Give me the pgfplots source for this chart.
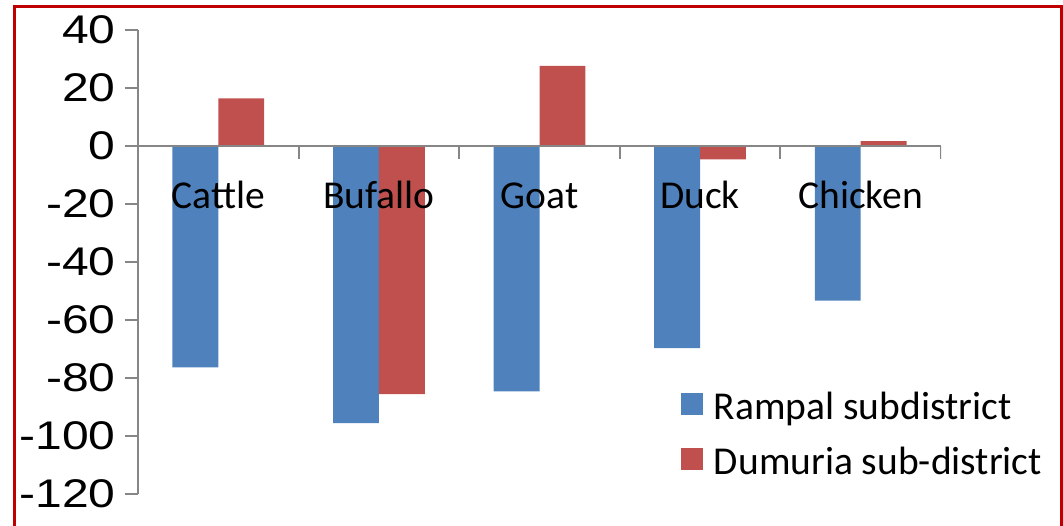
\documentclass[border=0pt]{standalone}
\usepackage{pgfplots}
\pgfplotsset{compat=1.18}
\usepackage{fontspec}
\setmainfont{Carlito}
\newfontfamily\arialfont[FakeStretch=1.2]{Liberation Sans}

\definecolor{rampal}{HTML}{4F81BD}
\definecolor{dumuria}{HTML}{C0504D}
\definecolor{axisgray}{HTML}{868686}
\definecolor{framered}{HTML}{C00000}

\begin{document}
\begin{tikzpicture}
\useasboundingbox (0,0) rectangle (1063bp,526bp);
% outer frame of the chart area
\draw[framered, line width=3bp] (14bp,-20bp) rectangle (1061bp,519.7bp);

\begin{axis}[
  at={(138bp,32bp)}, anchor=south west,
  scale only axis,
  width=803bp, height=464bp,
  xmin=-0.5, xmax=4.5,
  ymin=-120, ymax=40,
  axis on top,
  axis y line*=left,
  axis x line*=middle,
  axis line style={axisgray, line width=2bp},
  ytick={-120,-100,...,40},
  ytick style={axisgray, line width=2bp},
  tick align=outside,
  major tick length=13bp,
  yticklabel style={font=\arialfont\fontsize{40bp}{48bp}\selectfont, xshift=-6bp},
  /pgf/number format/assume math mode=true,
  xtick={0,...,4},
  xticklabels={Cattle,Bufallo,Goat,Duck,Chicken},
  xtick style={draw=none},
  xticklabel style={font=\fontsize{39.5bp}{46bp}\selectfont, anchor=base, yshift=-50bp},
  ybar, bar width=0.2857,
  legend style={
    at={(0.6762,0.2198)}, anchor=north west,
    draw=none, fill=none, inner sep=0pt, outer sep=0pt,
    font=\fontsize{39.5bp}{46bp}\selectfont,
    nodes={inner sep=0pt, text height=27bp, text depth=8bp},
    row sep=20bp,
    legend cell align=left,
  },
  legend image code/.code={\fill[#1] (0bp,-5bp) rectangle (22bp,17bp); \path (33bp,0bp);},
]
\addplot[fill=rampal, draw=none, bar shift=-0.14285] coordinates
  {(0,-76.3) (1,-95.6) (2,-84.6) (3,-69.7) (4,-53.3)};
\addplot[fill=dumuria, draw=none, bar shift=0.14285] coordinates
  {(0,16.4) (1,-85.6) (2,27.6) (3,-4.6) (4,1.7)};
\legend{Rampal subdistrict, Dumuria sub-district}
% category boundary ticks below the zero line
\draw[axisgray, line width=2bp] (axis cs:-0.5,0) -- (axis cs:-0.5,-4.48);
\draw[axisgray, line width=2bp] (axis cs:0.5,0) -- (axis cs:0.5,-4.48);
\draw[axisgray, line width=2bp] (axis cs:1.5,0) -- (axis cs:1.5,-4.48);
\draw[axisgray, line width=2bp] (axis cs:2.5,0) -- (axis cs:2.5,-4.48);
\draw[axisgray, line width=2bp] (axis cs:3.5,0) -- (axis cs:3.5,-4.48);
\draw[axisgray, line width=2bp] (axis cs:4.5,0) -- (axis cs:4.5,-4.48);
\end{axis}
\end{tikzpicture}
\end{document}
